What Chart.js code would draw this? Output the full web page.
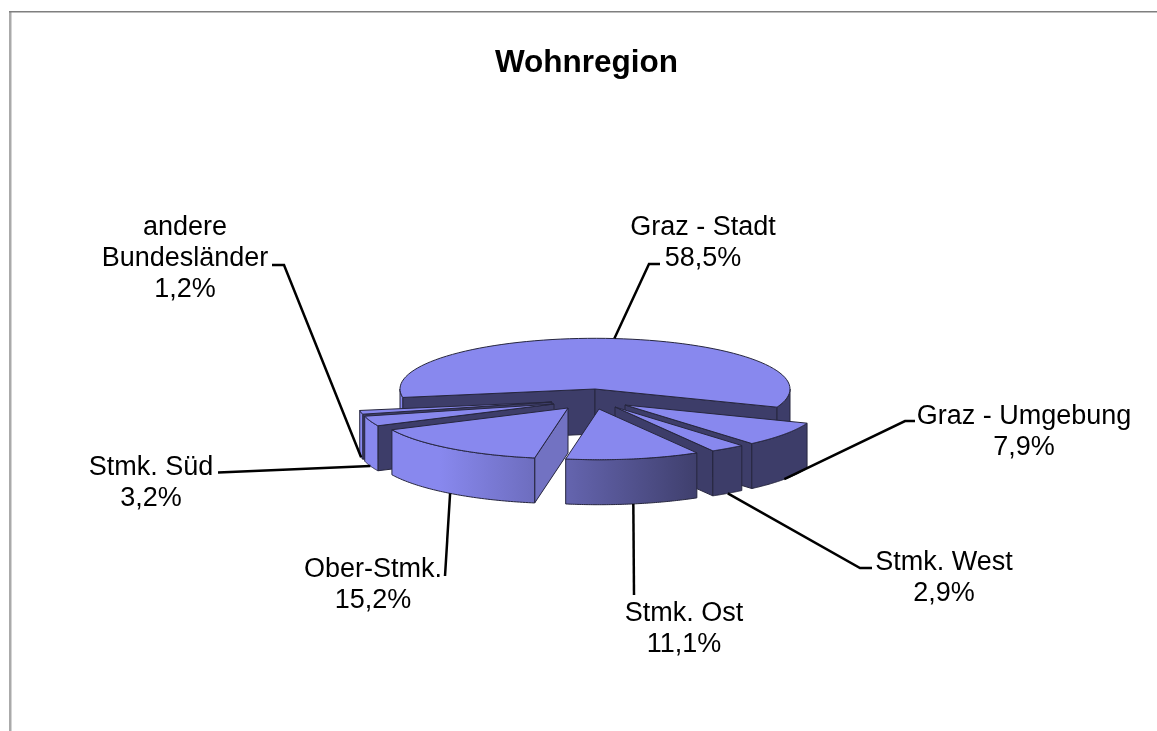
<!DOCTYPE html>
<html><head><meta charset="utf-8">
<style>html,body{margin:0;padding:0;background:#fff}#wrap{position:absolute;left:0;top:0;width:1157px;height:731px}</style>
<script src="https://cdn.jsdelivr.net/npm/chart.js@4"></script>
</head><body><div id="wrap"><canvas id="c"></canvas></div>
<script>
// data
const titleText = 'Wohnregion';
const categories = [['Graz - Stadt'],['Graz - Umgebung'],['Stmk. West'],['Stmk. Ost'],['Ober-Stmk.'],['Stmk. Süd'],['andere','Bundesländer']];
const shares = [58.5,7.9,2.9,11.1,15.2,3.2,1.2];
// explosion of each slice on screen, px
const explodeX = [0,30,20,4,-27,-41,-43];
const explodeY = [0,16,18,20,19,15,13];
// styling
const topColor = '#8888ee', darkColor = '#3d3d69', midFace = '#7272c2', edgeColor = '#26263e';
const faceColors = [darkColor,darkColor,darkColor,darkColor,midFace,darkColor,darkColor];
const wallOrder = [0,6,5,1,2,4,3];
const pieX = 595, pieY = 389, pieR = 195, squash = 0.26, depth = 45;
// label block centre x, first-line centre y
const labelX = [703,1024,944,684,373,151,185];
const labelY = [228,417,563,614,570,468,228];
const lineGap = 31;
// elbow and end of each leader line
const leaderEnds = [[[649,264],[660,264]],[[905,421],[915,421]],[[860,568],[872,568]],[[634,595]],[[445,576]],[[230,472],[218,472.5]],[[284,265],[272,265]]];
const labelFont = '27px "Liberation Sans", Arial, sans-serif';

const pie3d = {
  id:'pie3d',
  beforeDraw(chart){
    const c = chart.ctx;
    c.save();
    c.fillStyle='#fff'; c.fillRect(0,0,chart.width,chart.height);
    c.fillStyle='#aaaaaa'; c.fillRect(9,11,2.5,chart.height-11);
    c.fillStyle='#7f7f7f'; c.fillRect(9,11,chart.width-9,1.5);
    c.restore();
  },
  beforeDatasetsDraw(chart){
    const c = chart.ctx, a = chart.chartArea, meta = chart.getDatasetMeta(0);
    const X=(a.left+a.right)/2, Y=(a.top+a.bottom)/2;
    const tx=pieX-X, ty=pieY-squash*Y;
    meta.data.forEach((arc,i)=>{arc.x=X+explodeX[i]; arc.y=Y+explodeY[i]/squash;});
    chart.$pt=(arc,t)=>({x:arc.x+tx+arc.outerRadius*Math.cos(t), y:squash*(arc.y+arc.outerRadius*Math.sin(t))+ty});
    chart.$tip=(arc)=>({x:arc.x+tx, y:squash*arc.y+ty});
    const g=c.createLinearGradient(440,0,705,0);
    g.addColorStop(0,topColor); g.addColorStop(1,darkColor);
    c.save();
    c.lineWidth=1; c.strokeStyle=edgeColor; c.lineJoin='round';
    const poly=(pts,fill)=>{c.beginPath();pts.forEach((p,j)=>j?c.lineTo(p.x,p.y):c.moveTo(p.x,p.y));c.closePath();c.fillStyle=fill;c.fill();c.stroke();};
    const down=p=>({x:p.x,y:p.y+depth});
    wallOrder.forEach(i=>{
      const arc=meta.data[i], t0=arc.startAngle, t1=arc.endAngle, tip=chart.$tip(arc);
      if(Math.cos(t0)<0){const e=chart.$pt(arc,t0);poly([tip,e,down(e),down(tip)],faceColors[i]);}
      if(Math.cos(t1)>0){const e=chart.$pt(arc,t1);poly([tip,e,down(e),down(tip)],faceColors[i]);}
      for(let n=-1;n<=1;n++){
        const lo=Math.max(t0,2*Math.PI*n), hi=Math.min(t1,Math.PI+2*Math.PI*n);
        if(hi<=lo) continue;
        const up=[],dn=[];
        for(let s=0;s<=60;s++){const p=chart.$pt(arc,lo+(hi-lo)*s/60);up.push(p);dn.unshift(down(p));}
        poly(up.concat(dn),g);
      }
    });
    c.restore();
    c.save();
    c.transform(1,0,0,squash,tx,ty);
  },
  afterDatasetsDraw(chart){
    const c = chart.ctx, meta = chart.getDatasetMeta(0);
    c.restore();
    c.save();
    c.lineWidth=1; c.strokeStyle=edgeColor; c.lineJoin='round';
    meta.data.forEach(arc=>{
      const tip=chart.$tip(arc);
      c.beginPath(); c.moveTo(tip.x,tip.y);
      for(let s=0;s<=80;s++){const p=chart.$pt(arc,arc.startAngle+(arc.endAngle-arc.startAngle)*s/80);c.lineTo(p.x,p.y);}
      c.closePath(); c.stroke();
    });
    // leader lines
    c.lineWidth=2.5; c.strokeStyle='#000'; c.lineJoin='miter';
    meta.data.forEach((arc,i)=>{
      const mid=(arc.startAngle+arc.endAngle)/2, p=chart.$pt(arc,mid);
      c.beginPath(); c.moveTo(p.x,p.y+(Math.sin(mid)>0?depth:0));
      leaderEnds[i].forEach(q=>c.lineTo(q[0],q[1]));
      c.stroke();
    });
    // labels
    c.fillStyle='#000'; c.font=labelFont; c.textAlign='center'; c.textBaseline='middle';
    categories.forEach((lines,i)=>{
      const text=lines.concat([shares[i].toFixed(1).replace('.',',')+'%']);
      text.forEach((s,j)=>c.fillText(s,labelX[i],labelY[i]+j*lineGap));
    });
    c.restore();
  }
};

new Chart(document.getElementById('c'),{
  type:'pie',
  data:{labels:categories.map(l=>l.join(' ')),datasets:[{data:shares,backgroundColor:topColor,borderWidth:0,hoverOffset:0,radius:pieR}]},
  options:{
    responsive:true,maintainAspectRatio:false,animation:false,events:[],
    rotation:-99.6,
    layout:{padding:{left:16,right:0,top:44,bottom:0}},
    plugins:{
      legend:{display:false},tooltip:{enabled:false},
      title:{display:true,text:titleText,color:'#000',padding:0,font:{family:'"Liberation Sans", Arial, sans-serif',size:31.5,weight:'bold'}}
    }
  },
  plugins:[pie3d]
});
</script></body></html>
